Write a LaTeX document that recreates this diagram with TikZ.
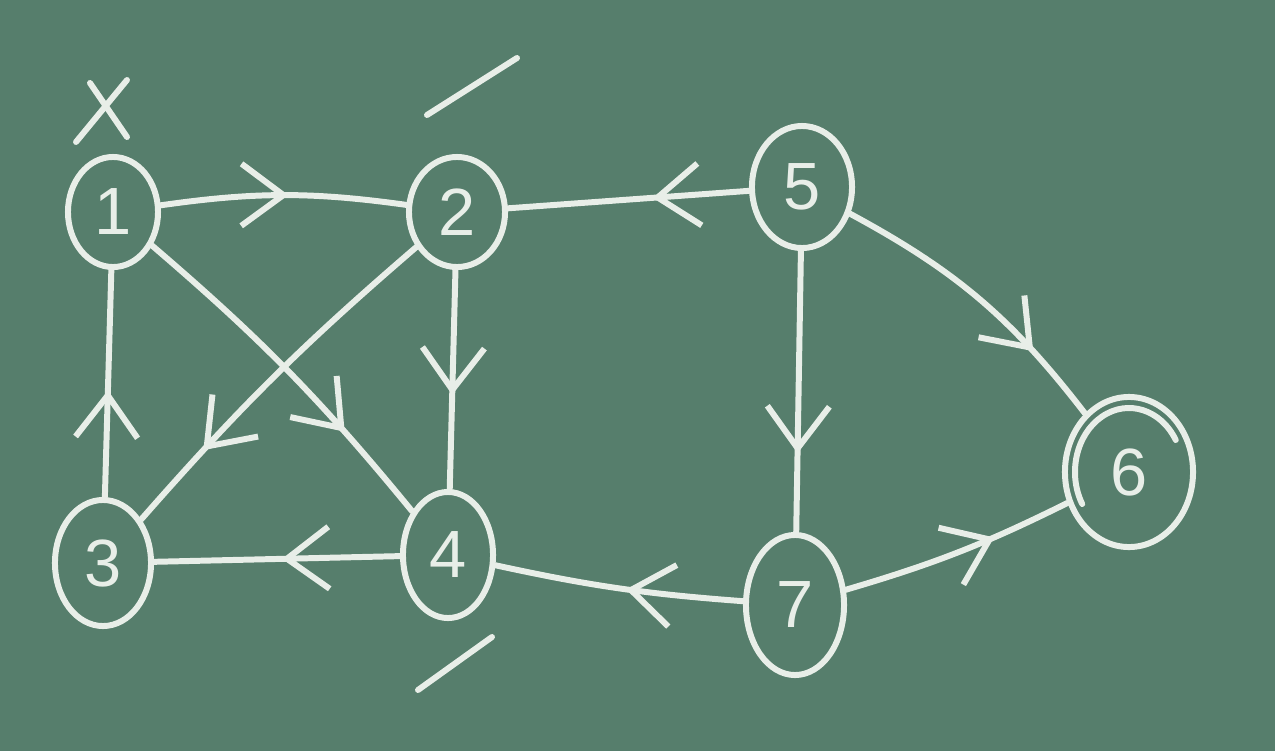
\documentclass[tikz,border=0pt]{standalone}
\usepackage{fontspec}
\setmainfont{Liberation Sans}
\usetikzlibrary{shapes.geometric,arrows.meta,decorations.markings}
\definecolor{board}{RGB}{86,126,108}
\definecolor{chalk}{RGB}{232,238,232}
\tikzset{
  chalkline/.style={draw=chalk, line width=1.7pt, line cap=round, line join=round},
  vertex/.style={ellipse, chalkline, inner sep=0pt, text=chalk, font=\fontsize{19}{22}\selectfont},
  edge/.style={chalkline},
  midarrow/.style={postaction={decorate}, decoration={markings,
      mark=at position #1 with {\arrow[chalk, line width=1.7pt]{Straight Barb[length=4.2mm,width=6.2mm]}}}}
}
\begin{document}
\begin{tikzpicture}[x=0.01cm, y=-0.01cm]
\useasboundingbox (0,0) rectangle (1275,751);
\fill[board] (0,0) rectangle (1275,751);

\node[vertex, minimum width=0.9cm, minimum height=1.1cm] (1) at (113,212) {1};
\node[vertex, minimum width=0.96cm, minimum height=1.1cm] (2) at (457,212) {2};
\node[vertex, minimum width=1.0cm, minimum height=1.22cm] (5) at (802,187) {5};
\node[vertex, minimum width=1.28cm, minimum height=1.5cm] (6) at (1129,472) {6};
\node[vertex, minimum width=0.96cm, minimum height=1.26cm] (3) at (103,563) {3};
\node[vertex, minimum width=0.9cm, minimum height=1.26cm] (4) at (448,555) {4};
\node[vertex, minimum width=0.98cm, minimum height=1.4cm] (7) at (795,605) {7};

% inner ring of node 6
\draw[chalkline] (6.center) ++(30:54 and -64) arc[start angle=-30, end angle=-210, x radius=54, y radius=64];

% edges
\draw[edge, midarrow=0.52] (1) to[bend left=8] (2);
\draw[edge, midarrow=0.4] (5) -- (2);
\draw[edge, midarrow=0.57] (2) -- (4);
\draw[edge, midarrow=0.76] (2) to[bend right=4] (3);
\draw[edge, midarrow=0.72] (1) to[bend left=5] (4);
\draw[edge, midarrow=0.47] (3) -- (1);
\draw[edge, midarrow=0.48] (4) -- (3);
\draw[edge, midarrow=0.47] (7) to[bend left=4] (4);
\draw[edge, midarrow=0.72] (5) -- (7);
\draw[edge, midarrow=0.74] (5) to[bend left=12] (6);
\draw[edge, midarrow=0.66] (7) to[bend right=5] (6);

% marks
\coordinate (xa1) at (76,142); \coordinate (xa2) at (127,80);
\coordinate (xb1) at (90,83);  \coordinate (xb2) at (127,137);
\draw[chalkline] (xa1) -- (xa2);
\draw[chalkline] (xb1) -- (xb2);
\coordinate (s1a) at (427,115); \coordinate (s1b) at (517,58);
\draw[chalkline] (s1a) -- (s1b);
\coordinate (s2a) at (418,690); \coordinate (s2b) at (492,637);
\draw[chalkline] (s2a) -- (s2b);
\end{tikzpicture}
\end{document}
